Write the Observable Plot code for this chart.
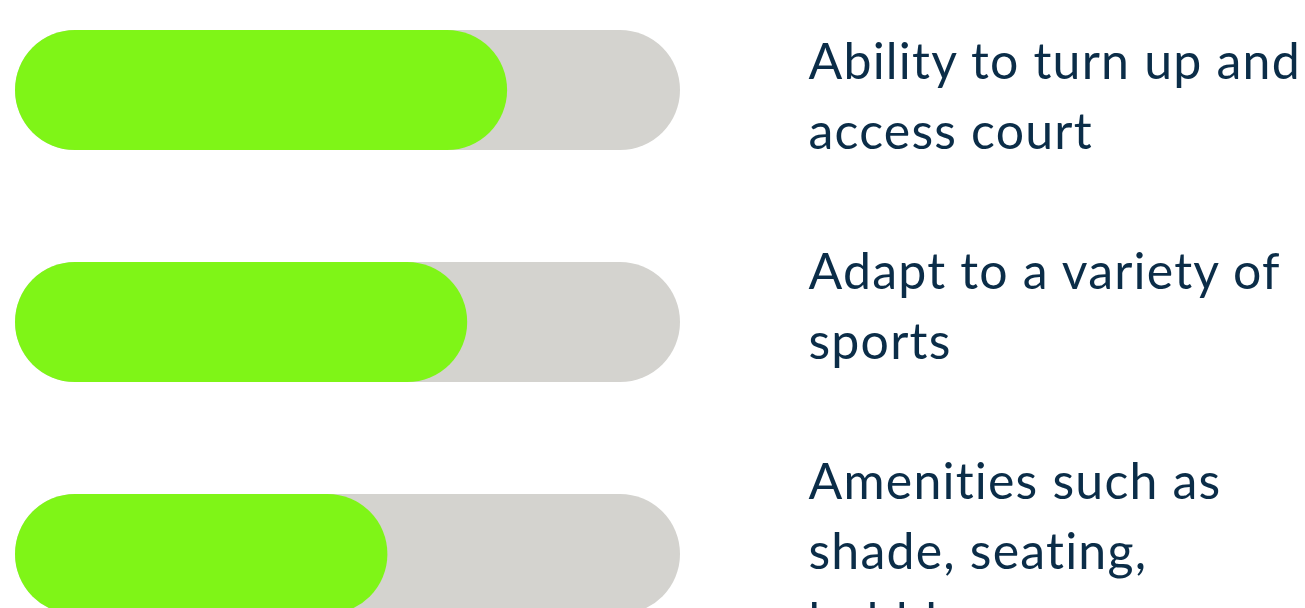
<!DOCTYPE html>
<html>
<head>
<meta charset="utf-8">
<script src="https://cdn.jsdelivr.net/npm/d3@7"></script>
<script src="https://cdn.jsdelivr.net/npm/@observablehq/plot@0.6"></script>
<style>
  html, body { margin: 0; padding: 0; background: #ffffff; overflow: hidden; }
  #chart svg { display: block; }
  #chart svg text { letter-spacing: 1.2px; }
</style>
</head>
<body>
<div id="chart"></div>
<script>
// Data
const categories = [
  "Ability to turn up and access court",
  "Adapt to a variety of sports",
  "Amenities such as shade, seating, bubblers"
];
const labelLines = [
  "Ability to turn up and\naccess court",
  "Adapt to a variety of\nsports",
  "Amenities such as\nshade, seating,\nbubblers"
];
const values = [74, 68, 56];   // percent
const trackMax = 100;

const rows = categories.map((c, i) => ({
  category: c,
  label: labelLines[i],
  value: values[i],
  track: trackMax
}));

const fontSize = 50;
// label column has its own, slightly tighter, rhythm than the bars
const labelTop = -61, labelStepShift = -22;

const chart = Plot.plot({
  width: 1305,
  height: 608,
  margin: 0,
  x: { domain: [0, 100], range: [15, 680], axis: null },
  y: { domain: categories, range: [-26, 670], padding: 0, axis: null },
  style: { background: "#ffffff" },
  marks: [
    Plot.barX(rows, {
      x1: 0, x2: "track", y: "category",
      fill: "#d4d3cf", insetTop: 56, insetBottom: 56, rx: 60
    }),
    Plot.barX(rows, {
      x1: 0, x2: "value", y: "category",
      fill: "#7ff517", insetTop: 56, insetBottom: 56, rx: 60
    }),
    ...rows.map((r, i) => Plot.text([r], {
      x: "track", y: "category", text: "label",
      dx: 128, dy: labelTop + labelStepShift * i,
      textAnchor: "start", lineAnchor: "top",
      lineHeight: 70 / fontSize,
      fontSize: fontSize, fontFamily: "Lato", fill: "#0b2d48"
    }))
  ]
});
document.getElementById("chart").append(chart);
</script>
</body>
</html>
